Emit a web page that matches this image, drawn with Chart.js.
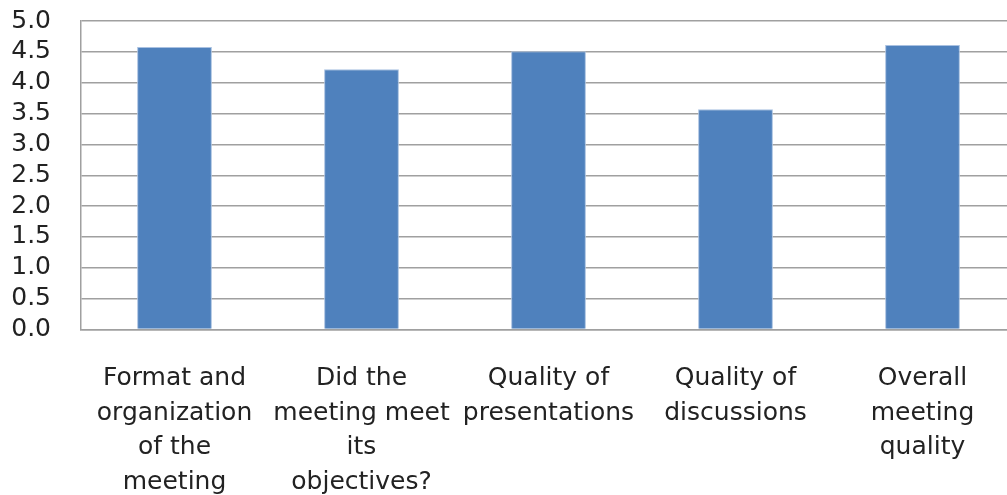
<!DOCTYPE html>
<html>
<head>
<meta charset="utf-8">
<script src="https://cdn.jsdelivr.net/npm/chart.js@4/dist/chart.umd.min.js"></script>
<style>
  html, body { margin: 0; padding: 0; background: #fff; overflow: hidden; }
  #wrap { position: relative; width: 1016px; height: 495px; }
</style>
</head>
<body>
<div id="wrap"><canvas id="c"></canvas></div>
<script>
// Meeting evaluation: mean rating per question (scale 0–5)
const categories = [
  ["Format and", "organization", "of the", "meeting"],
  ["Did the", "meeting meet", "its", "objectives?"],
  ["Quality of", "presentations"],
  ["Quality of", "discussions"],
  ["Overall", "meeting", "quality"]
];
const ratings = [4.58, 4.22, 4.51, 3.57, 4.61];
const yMin = 0;
const yMax = 5;
const yStep = 0.5;

const FONT = "'DejaVu Sans', sans-serif";

new Chart(document.getElementById('c'), {
  type: 'bar',
  data: {
    labels: categories,
    datasets: [{
      data: ratings,
      backgroundColor: '#4F81BD',
      borderColor: '#A9C1E1',
      borderWidth: 1,
      barPercentage: 0.4,
      categoryPercentage: 1.0
    }]
  },
  options: {
    responsive: true,
    maintainAspectRatio: false,
    animation: false,
    layout: { padding: { top: 21, left: 0, right: 0, bottom: 0 } },
    plugins: { legend: { display: false }, tooltip: { enabled: false } },
    scales: {
      x: {
        grid: { display: false, drawTicks: false },
        border: { display: true, color: '#a0a0a0', width: 1.5 },
        ticks: {
          color: '#222',
          font: { family: FONT, size: 25, lineHeight: 1.38 },
          padding: 32,
          maxRotation: 0,
          minRotation: 0,
          autoSkip: false
        },
        afterFit: (s) => { s.height = 165.5; s.paddingLeft = 0; s.paddingRight = 0; }
      },
      y: {
        min: yMin,
        max: yMax,
        grid: { color: '#a0a0a0', lineWidth: 1.5, drawTicks: false },
        border: { display: true, color: '#a0a0a0', width: 1.5 },
        ticks: {
          stepSize: yStep,
          autoSkip: false,
          color: '#222',
          font: { family: FONT, size: 25 },
          padding: 30,
          callback: (v) => Number(v).toFixed(1)
        },
        afterFit: (s) => { s.width = 81; s.paddingTop = 0; s.paddingBottom = 0; }
      }
    }
  }
});
</script>
</body>
</html>
